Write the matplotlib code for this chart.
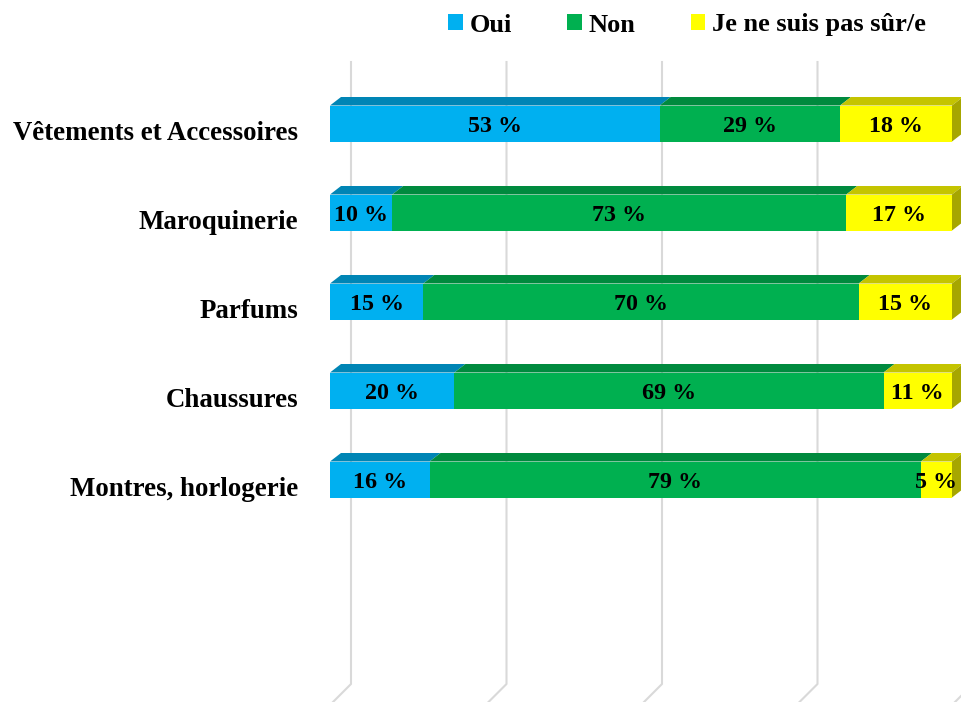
import matplotlib
matplotlib.use("Agg")
import matplotlib.pyplot as plt
from matplotlib.patches import Polygon, Patch

categories = ["Vêtements et Accessoires", "Maroquinerie", "Parfums",
              "Chaussures", "Montres, horlogerie"]
series_names = ["Oui", "Non", "Je ne suis pas sûr/e"]
oui = [53, 10, 15, 20, 16]
non = [29, 73, 70, 69, 79]
incertain = [18, 17, 15, 11, 5]
gridline_values = [0, 25, 50, 75, 100]

front_colors = ["#00B0F0", "#00B050", "#FFFF00"]
top_colors = ["#0085B5", "#008A3E", "#C4C400"]
side_colors = ["#0075A0", "#007A36", "#A6A600"]

W, H = 962, 702
fig = plt.figure(figsize=(W / 100, H / 100), dpi=100)
ax_left_px, ax_right_px = 330, 952
ax = fig.add_axes([ax_left_px / W, 0, (ax_right_px - ax_left_px) / W, 1])
ax.set_axis_off()

xscale = 100.0 / (ax_right_px - ax_left_px)   # value units per pixel
row_px = 89.0
first_center_px = 123.5
yscale = 1.0 / row_px                          # row units per pixel
ax.set_xlim(0, 100)
ax.set_ylim((H - first_center_px) / row_px, -first_center_px / row_px)

bar_h = 36 * yscale
dx, dy = 11 * xscale, 8.5 * yscale   # bar depth
wdx, wdy = 21 * xscale, 21 * yscale  # back wall offset

# gridlines on back wall and floor
y_floor_front = (705 - first_center_px) / row_px
y_wall_bottom = y_floor_front - wdy
y_wall_top = (62 - first_center_px) / row_px
for g in gridline_values:
    ax.plot([g + wdx, g + wdx, g], [y_wall_top, y_wall_bottom, y_floor_front],
            color="#D9D9D9", lw=1.5, clip_on=False, zorder=1)

series = [oui, non, incertain]
font_lab = dict(family=["Liberation Serif", "DejaVu Serif"], weight="bold")
for i, cat in enumerate(categories):
    left = 0
    ytop = i - bar_h / 2
    ybot = i + bar_h / 2
    for s, vals in enumerate(series):
        v = vals[i]
        ax.barh(i, v, left=left, height=bar_h, color=front_colors[s],
                edgecolor="none", zorder=3)
        top = Polygon([(left, ytop), (left + v, ytop), (left + v + dx, ytop - dy),
                       (left + dx, ytop - dy)], closed=True,
                      facecolor=top_colors[s], edgecolor="none", zorder=3,
                      clip_on=False)
        ax.add_patch(top)
        if s == len(series) - 1:
            x1 = left + v
            side = Polygon([(x1, ytop), (x1 + dx, ytop - dy), (x1 + dx, ybot - dy),
                            (x1, ybot)], closed=True, facecolor=side_colors[s],
                           edgecolor="none", zorder=3, clip_on=False)
            ax.add_patch(side)
        ax.text(left + v / 2, i + 8 * yscale, f"{v} %", ha="center", va="baseline",
                fontsize=17.3, color="black", zorder=5, clip_on=False, **font_lab)
        left += v
    ax.text((298 - ax_left_px) * xscale, i + 16 * yscale, cat, ha="right",
            va="baseline", fontsize=19.4, color="black", clip_on=False, **font_lab)

handles = [Patch(facecolor=c, edgecolor="none") for c in front_colors]
fig.legend(handles, series_names, loc="center", bbox_to_anchor=(687 / W, 1 - 25 / H),
           ncol=3, frameon=False, handlelength=0.55, handleheight=0.55,
           handletextpad=0.25, columnspacing=2.1, borderpad=0,
           prop=dict(family=["Liberation Serif", "DejaVu Serif"], weight="bold", size=19))

fig.savefig("out.png", dpi=100)
